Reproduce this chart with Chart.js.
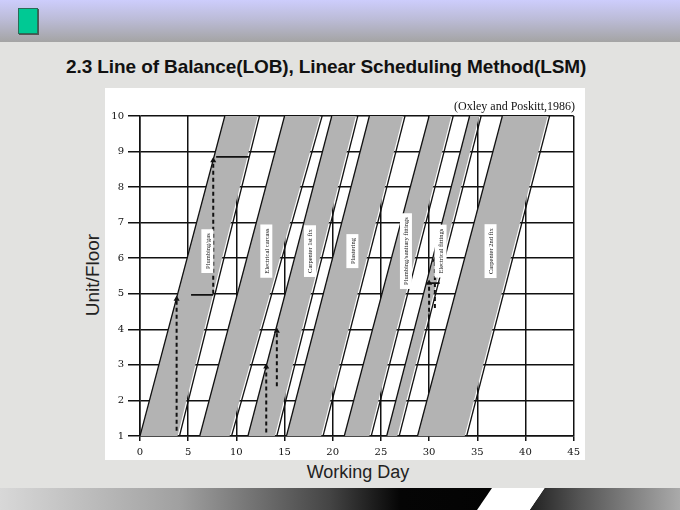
<!DOCTYPE html>
<html lang="en">
<head>
<meta charset="UTF-8" />
<title>Line of Balance</title>
<script src="https://cdn.jsdelivr.net/npm/chart.js"></script>
<style>
  body { margin: 0; width: 680px; height: 510px; overflow: hidden; position: relative; background: #e2e2e0; font-family: "Liberation Sans", Arial, sans-serif; }
  #header { position: absolute; left: 0; top: 0; width: 680px; height: 42px; background: linear-gradient(#cdcdfc, #bcbcd8 45%, #a4a4a4); }
  #badge { position: absolute; left: 18px; top: 8px; width: 18px; height: 24px; background: #00c994; border: 1px solid #2b6b57; box-shadow: 1px 1px 0 #555; }
  #title { position: absolute; left: 66px; top: 56px; margin: 0; font-size: 19px; font-weight: bold; color: #111; white-space: nowrap; letter-spacing: -0.1px; }
  #box { position: absolute; left: 105px; top: 88px; width: 480px; height: 372px; background: #fff; }
  #source { position: absolute; right: 105px; top: 99px; font-family: "Liberation Serif", serif; font-size: 12px; color: #111; }
  #ytitle { position: absolute; left: 93px; top: 275px; font-size: 19px; color: #222; transform: translate(-50%, -50%) rotate(-90deg); white-space: nowrap; }
  #xtitle { position: absolute; left: 358px; top: 472px; font-size: 18px; color: #222; transform: translate(-50%, -50%); white-space: nowrap; }
  #footer { position: absolute; left: 0; top: 488px; width: 680px; height: 22px; background: linear-gradient(to right, #d8d8d8 0px, #a0a0a0 180px, #444 330px, #050505 400px, #000 680px); }
  #slash { position: absolute; left: 0; top: 488px; width: 680px; height: 22px; background: #fff; clip-path: polygon(492px 0, 545px 0, 530px 22px, 477px 22px); }
  #rightpart { position: absolute; left: 0; top: 488px; width: 680px; height: 22px; background: linear-gradient(to right, #222 530px, #555 580px, #aaa 680px); clip-path: polygon(545px 0, 680px 0, 680px 22px, 530px 22px); }
</style>
</head>
<body>
<div id="header"></div>
<div id="badge"></div>
<div id="title">2.3 Line of Balance(LOB), Linear Scheduling Method(LSM)</div>
<div id="box"><canvas id="lob" width="480" height="372"></canvas></div>
<div id="source">(Oxley and Poskitt,1986)</div>
<div id="ytitle">Unit/Floor</div>
<div id="xtitle">Working Day</div>
<div id="footer"></div>
<div id="slash"></div>
<div id="rightpart"></div>

<script>
  // activities (working day at unit 1 and at unit 10)
  const activities = ['Plumbing/gas', 'Electrical carcass', 'Carpenter 1st fix', 'Plastering',
                      'Plumbing/sanitary fittings', 'Electrical fittings', 'Carpenter 2nd fix'];
  const startBottom  = [0.0, 6.2, 11.2, 15.2, 21.2, 25.6, 28.8];
  const startTop     = [8.8, 15.0, 19.9, 23.8, 30.0, 34.2, 37.6];
  const finishBottom = [4.1, 9.5, 14.2, 19.0, 24.0, 26.9, 33.9];
  const finishTop    = [12.4, 18.9, 22.6, 27.5, 32.5, 35.4, 42.5];

  // dashed arrows: day, from unit, to unit
  const arrowDay  = [3.8, 7.6, 13.1, 14.2, 30.0, 30.6];
  const arrowFrom = [1.15, 5.0, 1.1, 2.4, 4.3, 4.6];
  const arrowTo   = [4.85, 8.75, 2.95, 3.95, 5.3, 5.95];

  // short solid links: unit, from day, to day
  const linkUnit = [4.97, 8.85, 5.3];
  const linkFrom = [5.3, 7.9, 29.7];
  const linkTo   = [7.6, 11.3, 31.1];

  const xTicks = [0, 5, 10, 15, 20, 25, 30, 35, 40, 45];
  const yTicks = [1, 2, 3, 4, 5, 6, 7, 8, 9, 10];

  const firstUnit = yTicks[0], lastUnit = yTicks[yTicks.length - 1];
  const datasets = [];

  activities.forEach((name, i) => {
    datasets.push({
      label: name,
      data: [
        {x: startBottom[i], y: firstUnit}, {x: startTop[i], y: lastUnit},
        {x: finishTop[i] - 0.2, y: lastUnit}, {x: finishBottom[i] - 0.2, y: firstUnit}
      ],
      fill: 'shape', backgroundColor: '#b3b3b3', borderWidth: 0, pointRadius: 0, order: 5
    });
    datasets.push({
      data: [{x: startBottom[i], y: firstUnit}, {x: startTop[i], y: lastUnit}],
      borderColor: '#111', borderWidth: 1.3, pointRadius: 0, fill: false, order: 3
    });
    datasets.push({
      data: [{x: finishBottom[i], y: firstUnit}, {x: finishTop[i], y: lastUnit}],
      borderColor: '#111', borderWidth: 1.3, pointRadius: 0, fill: false, order: 3
    });
  });

  arrowDay.forEach((d, i) => {
    datasets.push({
      data: [{x: d, y: arrowFrom[i]}, {x: d, y: arrowTo[i]}],
      borderColor: '#111', borderWidth: 2, borderDash: [4, 3], fill: false,
      pointStyle: 'triangle', pointRadius: [0, 3.5], backgroundColor: '#111', pointBorderWidth: 0, order: 1
    });
  });

  linkUnit.forEach((u, i) => {
    datasets.push({
      data: [{x: linkFrom[i], y: u}, {x: linkTo[i], y: u}],
      borderColor: '#111', borderWidth: 1.6, pointRadius: 0, fill: false, order: 1
    });
  });

  // activity names in small white boxes, turned upright along each band
  const bandLabels = {
    id: 'bandLabels',
    afterDraw(chart) {
      const ctx = chart.ctx;
      const sx = chart.scales.x, sy = chart.scales.y;
      const u = 6.2, t = (u - firstUnit) / (lastUnit - firstUnit);
      ctx.save();
      ctx.font = '6.5px "Liberation Serif", serif';
      ctx.textAlign = 'center';
      ctx.textBaseline = 'middle';
      activities.forEach((name, i) => {
        const s = startBottom[i] + (startTop[i] - startBottom[i]) * t;
        const f = finishBottom[i] + (finishTop[i] - finishBottom[i]) * t;
        const px = sx.getPixelForValue((s + f) / 2), py = sy.getPixelForValue(u);
        const w = ctx.measureText(name).width;
        ctx.save();
        ctx.translate(px, py);
        ctx.rotate(-Math.PI / 2);
        ctx.fillStyle = '#fff';
        ctx.fillRect(-w / 2 - 4, -6, w + 8, 12);
        ctx.fillStyle = '#111';
        ctx.fillText(name, 0, 0.5);
        ctx.restore();
      });
      ctx.restore();
    }
  };

  const tickFont = {family: '"DejaVu Serif", serif', size: 10};

  new Chart(document.getElementById('lob'), {
    type: 'line',
    data: {datasets: datasets},
    options: {
      responsive: false,
      animation: false,
      layout: {padding: {top: 28, right: 11, left: 0, bottom: 0}},
      plugins: {legend: {display: false}, tooltip: {enabled: false}},
      scales: {
        x: {
          type: 'linear', min: xTicks[0], max: xTicks[xTicks.length - 1], z: 1,
          afterBuildTicks: s => { s.ticks = xTicks.map(v => ({value: v})); },
          afterFit: s => { s.height = 24; },
          ticks: {color: '#111', font: tickFont, padding: 5, maxRotation: 0},
          grid: {color: '#111', lineWidth: 1.5, tickLength: 5},
          border: {color: '#111', width: 1.5}
        },
        y: {
          type: 'linear', min: firstUnit, max: lastUnit, z: 1,
          afterBuildTicks: s => { s.ticks = yTicks.map(v => ({value: v})); },
          afterFit: s => { s.width = 35; },
          ticks: {color: '#111', font: tickFont, padding: 4},
          grid: {color: '#111', lineWidth: 1.5, tickLength: 12},
          border: {color: '#111', width: 1.5}
        }
      }
    },
    plugins: [bandLabels]
  });
</script>
</body>
</html>
